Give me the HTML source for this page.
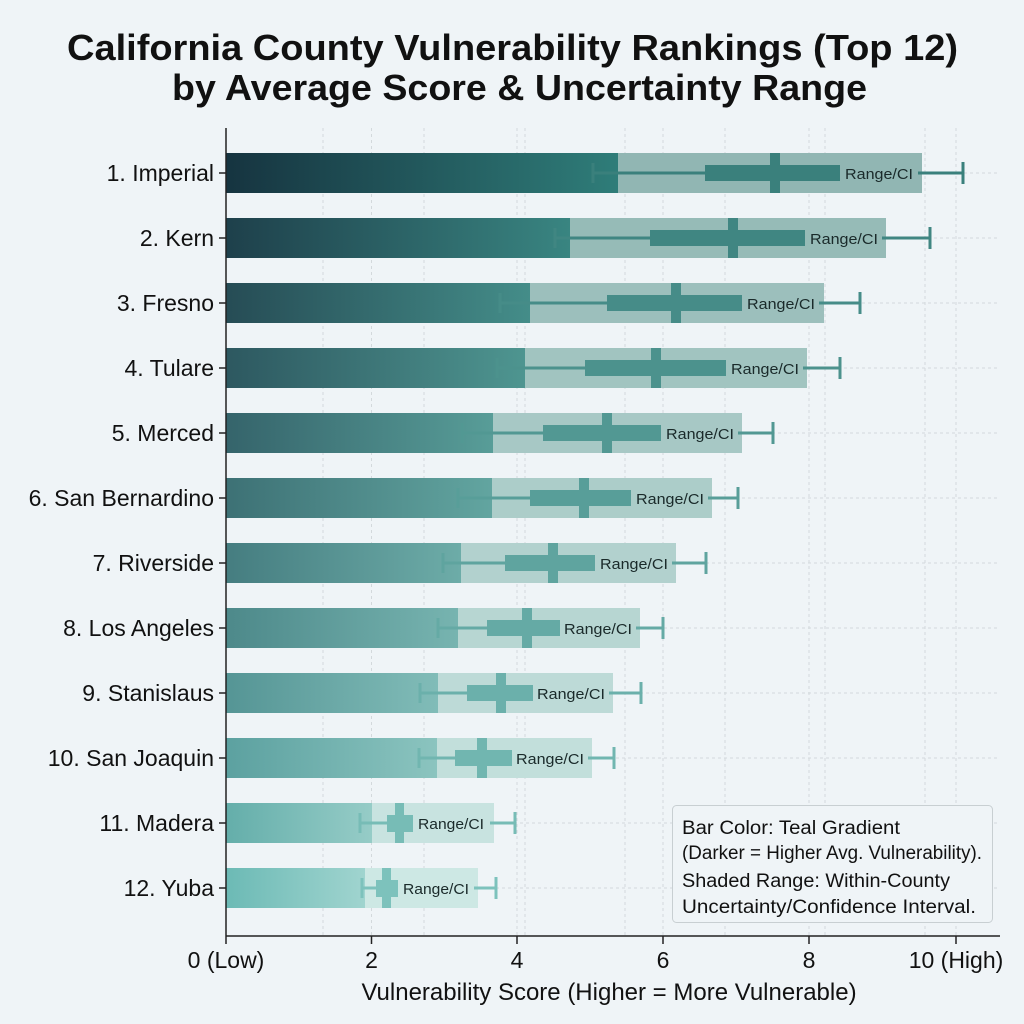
<!DOCTYPE html>
<html><head><meta charset="utf-8"><style>
html,body{margin:0;padding:0;background:#eff4f7;}
svg{display:block;font-family:"Liberation Sans",sans-serif;}
</style></head><body>
<svg width="1024" height="1024" viewBox="0 0 1024 1024" xmlns="http://www.w3.org/2000/svg">
<defs>
<linearGradient id="g0"><stop offset="0" stop-color="#163440"/><stop offset="1" stop-color="#2f7d79"/></linearGradient>
<linearGradient id="g1"><stop offset="0" stop-color="#1e404b"/><stop offset="1" stop-color="#398581"/></linearGradient>
<linearGradient id="g2"><stop offset="0" stop-color="#264c55"/><stop offset="1" stop-color="#448d89"/></linearGradient>
<linearGradient id="g3"><stop offset="0" stop-color="#2d5860"/><stop offset="1" stop-color="#4e9590"/></linearGradient>
<linearGradient id="g4"><stop offset="0" stop-color="#35646b"/><stop offset="1" stop-color="#589d98"/></linearGradient>
<linearGradient id="g5"><stop offset="0" stop-color="#3d7175"/><stop offset="1" stop-color="#62a5a0"/></linearGradient>
<linearGradient id="g6"><stop offset="0" stop-color="#457d80"/><stop offset="1" stop-color="#6daca8"/></linearGradient>
<linearGradient id="g7"><stop offset="0" stop-color="#4d898a"/><stop offset="1" stop-color="#77b4b0"/></linearGradient>
<linearGradient id="g8"><stop offset="0" stop-color="#559595"/><stop offset="1" stop-color="#81bcb8"/></linearGradient>
<linearGradient id="g9"><stop offset="0" stop-color="#5ca1a0"/><stop offset="1" stop-color="#8bc4bf"/></linearGradient>
<linearGradient id="g10"><stop offset="0" stop-color="#64aeaa"/><stop offset="1" stop-color="#96ccc7"/></linearGradient>
<linearGradient id="g11"><stop offset="0" stop-color="#6cbab5"/><stop offset="1" stop-color="#a0d4cf"/></linearGradient>
</defs>
<rect width="1024" height="1024" fill="#eff4f7"/>
<text x="67" y="60" font-size="36" font-weight="bold" fill="#111" textLength="891" lengthAdjust="spacingAndGlyphs">California County Vulnerability Rankings (Top 12)</text>
<text x="172" y="100" font-size="36" font-weight="bold" fill="#111" textLength="695" lengthAdjust="spacingAndGlyphs">by Average Score &amp; Uncertainty Range</text>
<g stroke="#d3d9dc" stroke-width="1" stroke-dasharray="3,3">
<line x1="323" y1="128" x2="323" y2="935"/><line x1="424" y1="128" x2="424" y2="935"/><line x1="525" y1="128" x2="525" y2="935"/><line x1="625" y1="128" x2="625" y2="935"/><line x1="725" y1="128" x2="725" y2="935"/><line x1="825" y1="128" x2="825" y2="935"/><line x1="925" y1="128" x2="925" y2="935"/>
<line x1="371.5" y1="128" x2="371.5" y2="935"/><line x1="517" y1="128" x2="517" y2="935"/><line x1="663" y1="128" x2="663" y2="935"/><line x1="809" y1="128" x2="809" y2="935"/><line x1="956" y1="128" x2="956" y2="935"/>
<line x1="226" y1="173" x2="1000" y2="173"/><line x1="226" y1="238" x2="1000" y2="238"/><line x1="226" y1="303" x2="1000" y2="303"/><line x1="226" y1="368" x2="1000" y2="368"/><line x1="226" y1="433" x2="1000" y2="433"/><line x1="226" y1="498" x2="1000" y2="498"/><line x1="226" y1="563" x2="1000" y2="563"/><line x1="226" y1="628" x2="1000" y2="628"/><line x1="226" y1="693" x2="1000" y2="693"/><line x1="226" y1="758" x2="1000" y2="758"/><line x1="226" y1="823" x2="1000" y2="823"/><line x1="226" y1="888" x2="1000" y2="888"/>
</g>
<g>
<rect x="226" y="153" width="696" height="40" fill="#91b6b3"/><rect x="226" y="153" width="392" height="40" fill="url(#g0)"/>
<g stroke="#3a807c" stroke-width="3"><line x1="593" y1="173" x2="705" y2="173"/><line x1="918" y1="173" x2="963" y2="173"/><line x1="593" y1="163" x2="593" y2="183"/><line x1="963" y1="162" x2="963" y2="184"/></g>
<rect x="705" y="165" width="135" height="16" fill="#3a807c"/><rect x="770" y="153" width="10" height="40" fill="#3a807c"/>
<text x="845" y="179" font-size="15" fill="#1a2a2a" textLength="68" lengthAdjust="spacingAndGlyphs">Range/CI</text>

<rect x="226" y="218" width="660" height="40" fill="#96bbb7"/><rect x="226" y="218" width="344" height="40" fill="url(#g1)"/>
<g stroke="#408682" stroke-width="3"><line x1="555" y1="238" x2="650" y2="238"/><line x1="882" y1="238" x2="930" y2="238"/><line x1="555" y1="228" x2="555" y2="248"/><line x1="930" y1="227" x2="930" y2="249"/></g>
<rect x="650" y="230" width="155" height="16" fill="#408682"/><rect x="728" y="218" width="10" height="40" fill="#408682"/>
<text x="810" y="244" font-size="15" fill="#1a2a2a" textLength="68" lengthAdjust="spacingAndGlyphs">Range/CI</text>

<rect x="226" y="283" width="598" height="40" fill="#9cbfbc"/><rect x="226" y="283" width="304" height="40" fill="url(#g2)"/>
<g stroke="#468c88" stroke-width="3"><line x1="500" y1="303" x2="607" y2="303"/><line x1="819" y1="303" x2="860" y2="303"/><line x1="500" y1="293" x2="500" y2="313"/><line x1="860" y1="292" x2="860" y2="314"/></g>
<rect x="607" y="295" width="135" height="16" fill="#468c88"/><rect x="671" y="283" width="10" height="40" fill="#468c88"/>
<text x="747" y="309" font-size="15" fill="#1a2a2a" textLength="68" lengthAdjust="spacingAndGlyphs">Range/CI</text>

<rect x="226" y="348" width="581" height="40" fill="#a1c4c0"/><rect x="226" y="348" width="299" height="40" fill="url(#g3)"/>
<g stroke="#4c928d" stroke-width="3"><line x1="497" y1="368" x2="585" y2="368"/><line x1="803" y1="368" x2="840" y2="368"/><line x1="497" y1="358" x2="497" y2="378"/><line x1="840" y1="357" x2="840" y2="379"/></g>
<rect x="585" y="360" width="141" height="16" fill="#4c928d"/><rect x="651" y="348" width="10" height="40" fill="#4c928d"/>
<text x="731" y="374" font-size="15" fill="#1a2a2a" textLength="68" lengthAdjust="spacingAndGlyphs">Range/CI</text>

<rect x="226" y="413" width="516" height="40" fill="#a7c8c5"/><rect x="226" y="413" width="267" height="40" fill="url(#g4)"/>
<g stroke="#529893" stroke-width="3"><line x1="462" y1="433" x2="543" y2="433"/><line x1="738" y1="433" x2="773" y2="433"/><line x1="462" y1="423" x2="462" y2="443"/><line x1="773" y1="422" x2="773" y2="444"/></g>
<rect x="543" y="425" width="118" height="16" fill="#529893"/><rect x="602" y="413" width="10" height="40" fill="#529893"/>
<text x="666" y="439" font-size="15" fill="#1a2a2a" textLength="68" lengthAdjust="spacingAndGlyphs">Range/CI</text>

<rect x="226" y="478" width="486" height="40" fill="#accdc9"/><rect x="226" y="478" width="266" height="40" fill="url(#g5)"/>
<g stroke="#589e99" stroke-width="3"><line x1="458" y1="498" x2="530" y2="498"/><line x1="708" y1="498" x2="738" y2="498"/><line x1="458" y1="488" x2="458" y2="508"/><line x1="738" y1="487" x2="738" y2="509"/></g>
<rect x="530" y="490" width="101" height="16" fill="#589e99"/><rect x="579" y="478" width="10" height="40" fill="#589e99"/>
<text x="636" y="504" font-size="15" fill="#1a2a2a" textLength="68" lengthAdjust="spacingAndGlyphs">Range/CI</text>

<rect x="226" y="543" width="450" height="40" fill="#b2d1ce"/><rect x="226" y="543" width="235" height="40" fill="url(#g6)"/>
<g stroke="#5fa49f" stroke-width="3"><line x1="443" y1="563" x2="505" y2="563"/><line x1="672" y1="563" x2="706" y2="563"/><line x1="443" y1="553" x2="443" y2="573"/><line x1="706" y1="552" x2="706" y2="574"/></g>
<rect x="505" y="555" width="90" height="16" fill="#5fa49f"/><rect x="548" y="543" width="10" height="40" fill="#5fa49f"/>
<text x="600" y="569" font-size="15" fill="#1a2a2a" textLength="68" lengthAdjust="spacingAndGlyphs">Range/CI</text>

<rect x="226" y="608" width="414" height="40" fill="#b7d6d2"/><rect x="226" y="608" width="232" height="40" fill="url(#g7)"/>
<g stroke="#65aaa5" stroke-width="3"><line x1="438" y1="628" x2="487" y2="628"/><line x1="636" y1="628" x2="663" y2="628"/><line x1="438" y1="618" x2="438" y2="638"/><line x1="663" y1="617" x2="663" y2="639"/></g>
<rect x="487" y="620" width="73" height="16" fill="#65aaa5"/><rect x="522" y="608" width="10" height="40" fill="#65aaa5"/>
<text x="564" y="634" font-size="15" fill="#1a2a2a" textLength="68" lengthAdjust="spacingAndGlyphs">Range/CI</text>

<rect x="226" y="673" width="387" height="40" fill="#bddad7"/><rect x="226" y="673" width="212" height="40" fill="url(#g8)"/>
<g stroke="#6bb0ab" stroke-width="3"><line x1="420" y1="693" x2="467" y2="693"/><line x1="609" y1="693" x2="641" y2="693"/><line x1="420" y1="683" x2="420" y2="703"/><line x1="641" y1="682" x2="641" y2="704"/></g>
<rect x="467" y="685" width="66" height="16" fill="#6bb0ab"/><rect x="496" y="673" width="10" height="40" fill="#6bb0ab"/>
<text x="537" y="699" font-size="15" fill="#1a2a2a" textLength="68" lengthAdjust="spacingAndGlyphs">Range/CI</text>

<rect x="226" y="738" width="366" height="40" fill="#c2dfdb"/><rect x="226" y="738" width="211" height="40" fill="url(#g9)"/>
<g stroke="#71b6b0" stroke-width="3"><line x1="419" y1="758" x2="455" y2="758"/><line x1="588" y1="758" x2="614" y2="758"/><line x1="419" y1="748" x2="419" y2="768"/><line x1="614" y1="747" x2="614" y2="769"/></g>
<rect x="455" y="750" width="57" height="16" fill="#71b6b0"/><rect x="477" y="738" width="10" height="40" fill="#71b6b0"/>
<text x="516" y="764" font-size="15" fill="#1a2a2a" textLength="68" lengthAdjust="spacingAndGlyphs">Range/CI</text>

<rect x="226" y="803" width="268" height="40" fill="#c8e3e0"/><rect x="226" y="803" width="146" height="40" fill="url(#g10)"/>
<g stroke="#77bcb6" stroke-width="3"><line x1="360" y1="823" x2="387" y2="823"/><line x1="490" y1="823" x2="515" y2="823"/><line x1="360" y1="813" x2="360" y2="833"/><line x1="515" y1="812" x2="515" y2="834"/></g>
<rect x="387" y="815" width="26" height="17" fill="#77bcb6"/><rect x="395" y="803" width="9" height="40" fill="#77bcb6"/>
<text x="418" y="829" font-size="15" fill="#1a2a2a" textLength="66" lengthAdjust="spacingAndGlyphs">Range/CI</text>

<rect x="226" y="868" width="252" height="40" fill="#cde8e4"/><rect x="226" y="868" width="139" height="40" fill="url(#g11)"/>
<g stroke="#7dc2bc" stroke-width="3"><line x1="362" y1="888" x2="376" y2="888"/><line x1="474" y1="888" x2="496" y2="888"/><line x1="362" y1="878" x2="362" y2="898"/><line x1="496" y1="877" x2="496" y2="899"/></g>
<rect x="376" y="880" width="22" height="17" fill="#7dc2bc"/><rect x="382" y="868" width="9" height="40" fill="#7dc2bc"/>
<text x="403" y="894" font-size="15" fill="#1a2a2a" textLength="66" lengthAdjust="spacingAndGlyphs">Range/CI</text>
</g>
<g stroke="#222" stroke-width="1.5">
<line x1="226" y1="128" x2="226" y2="936"/><line x1="226" y1="936" x2="1000" y2="936"/>
<line x1="226" y1="936" x2="226" y2="944"/><line x1="371.5" y1="936" x2="371.5" y2="944"/><line x1="517" y1="936" x2="517" y2="944"/><line x1="663" y1="936" x2="663" y2="944"/><line x1="809" y1="936" x2="809" y2="944"/><line x1="956" y1="936" x2="956" y2="944"/>
<line x1="219" y1="173" x2="226" y2="173"/><line x1="219" y1="238" x2="226" y2="238"/><line x1="219" y1="303" x2="226" y2="303"/><line x1="219" y1="368" x2="226" y2="368"/><line x1="219" y1="433" x2="226" y2="433"/><line x1="219" y1="498" x2="226" y2="498"/><line x1="219" y1="563" x2="226" y2="563"/><line x1="219" y1="628" x2="226" y2="628"/><line x1="219" y1="693" x2="226" y2="693"/><line x1="219" y1="758" x2="226" y2="758"/><line x1="219" y1="823" x2="226" y2="823"/><line x1="219" y1="888" x2="226" y2="888"/>
</g>
<g font-size="23" fill="#111" text-anchor="end">
<text x="214" y="181">1. Imperial</text><text x="214" y="246">2. Kern</text><text x="214" y="311">3. Fresno</text><text x="214" y="376">4. Tulare</text><text x="214" y="441">5. Merced</text><text x="214" y="506">6. San Bernardino</text><text x="214" y="571">7. Riverside</text><text x="214" y="636">8. Los Angeles</text><text x="214" y="701">9. Stanislaus</text><text x="214" y="766">10. San Joaquin</text><text x="214" y="831">11. Madera</text><text x="214" y="896">12. Yuba</text>
</g>
<g font-size="23" fill="#111" text-anchor="middle">
<text x="226" y="968">0 (Low)</text><text x="371.5" y="968">2</text><text x="517" y="968">4</text><text x="663" y="968">6</text><text x="809" y="968">8</text><text x="956" y="968">10 (High)</text>
<text x="609" y="1000" font-size="24">Vulnerability Score (Higher = More Vulnerable)</text>
</g>
<rect x="672.5" y="805.5" width="320" height="117" rx="4" fill="#eff4f7" stroke="#c8cfd2"/>
<g font-size="19" fill="#111">
<text x="682" y="834" textLength="218" lengthAdjust="spacingAndGlyphs">Bar Color: Teal Gradient</text>
<text x="682" y="859" textLength="300" lengthAdjust="spacingAndGlyphs">(Darker = Higher Avg. Vulnerability).</text>
<text x="682" y="887" textLength="268" lengthAdjust="spacingAndGlyphs">Shaded Range: Within-County</text>
<text x="682" y="913" textLength="294" lengthAdjust="spacingAndGlyphs">Uncertainty/Confidence Interval.</text>
</g>
</svg>
</body></html>
